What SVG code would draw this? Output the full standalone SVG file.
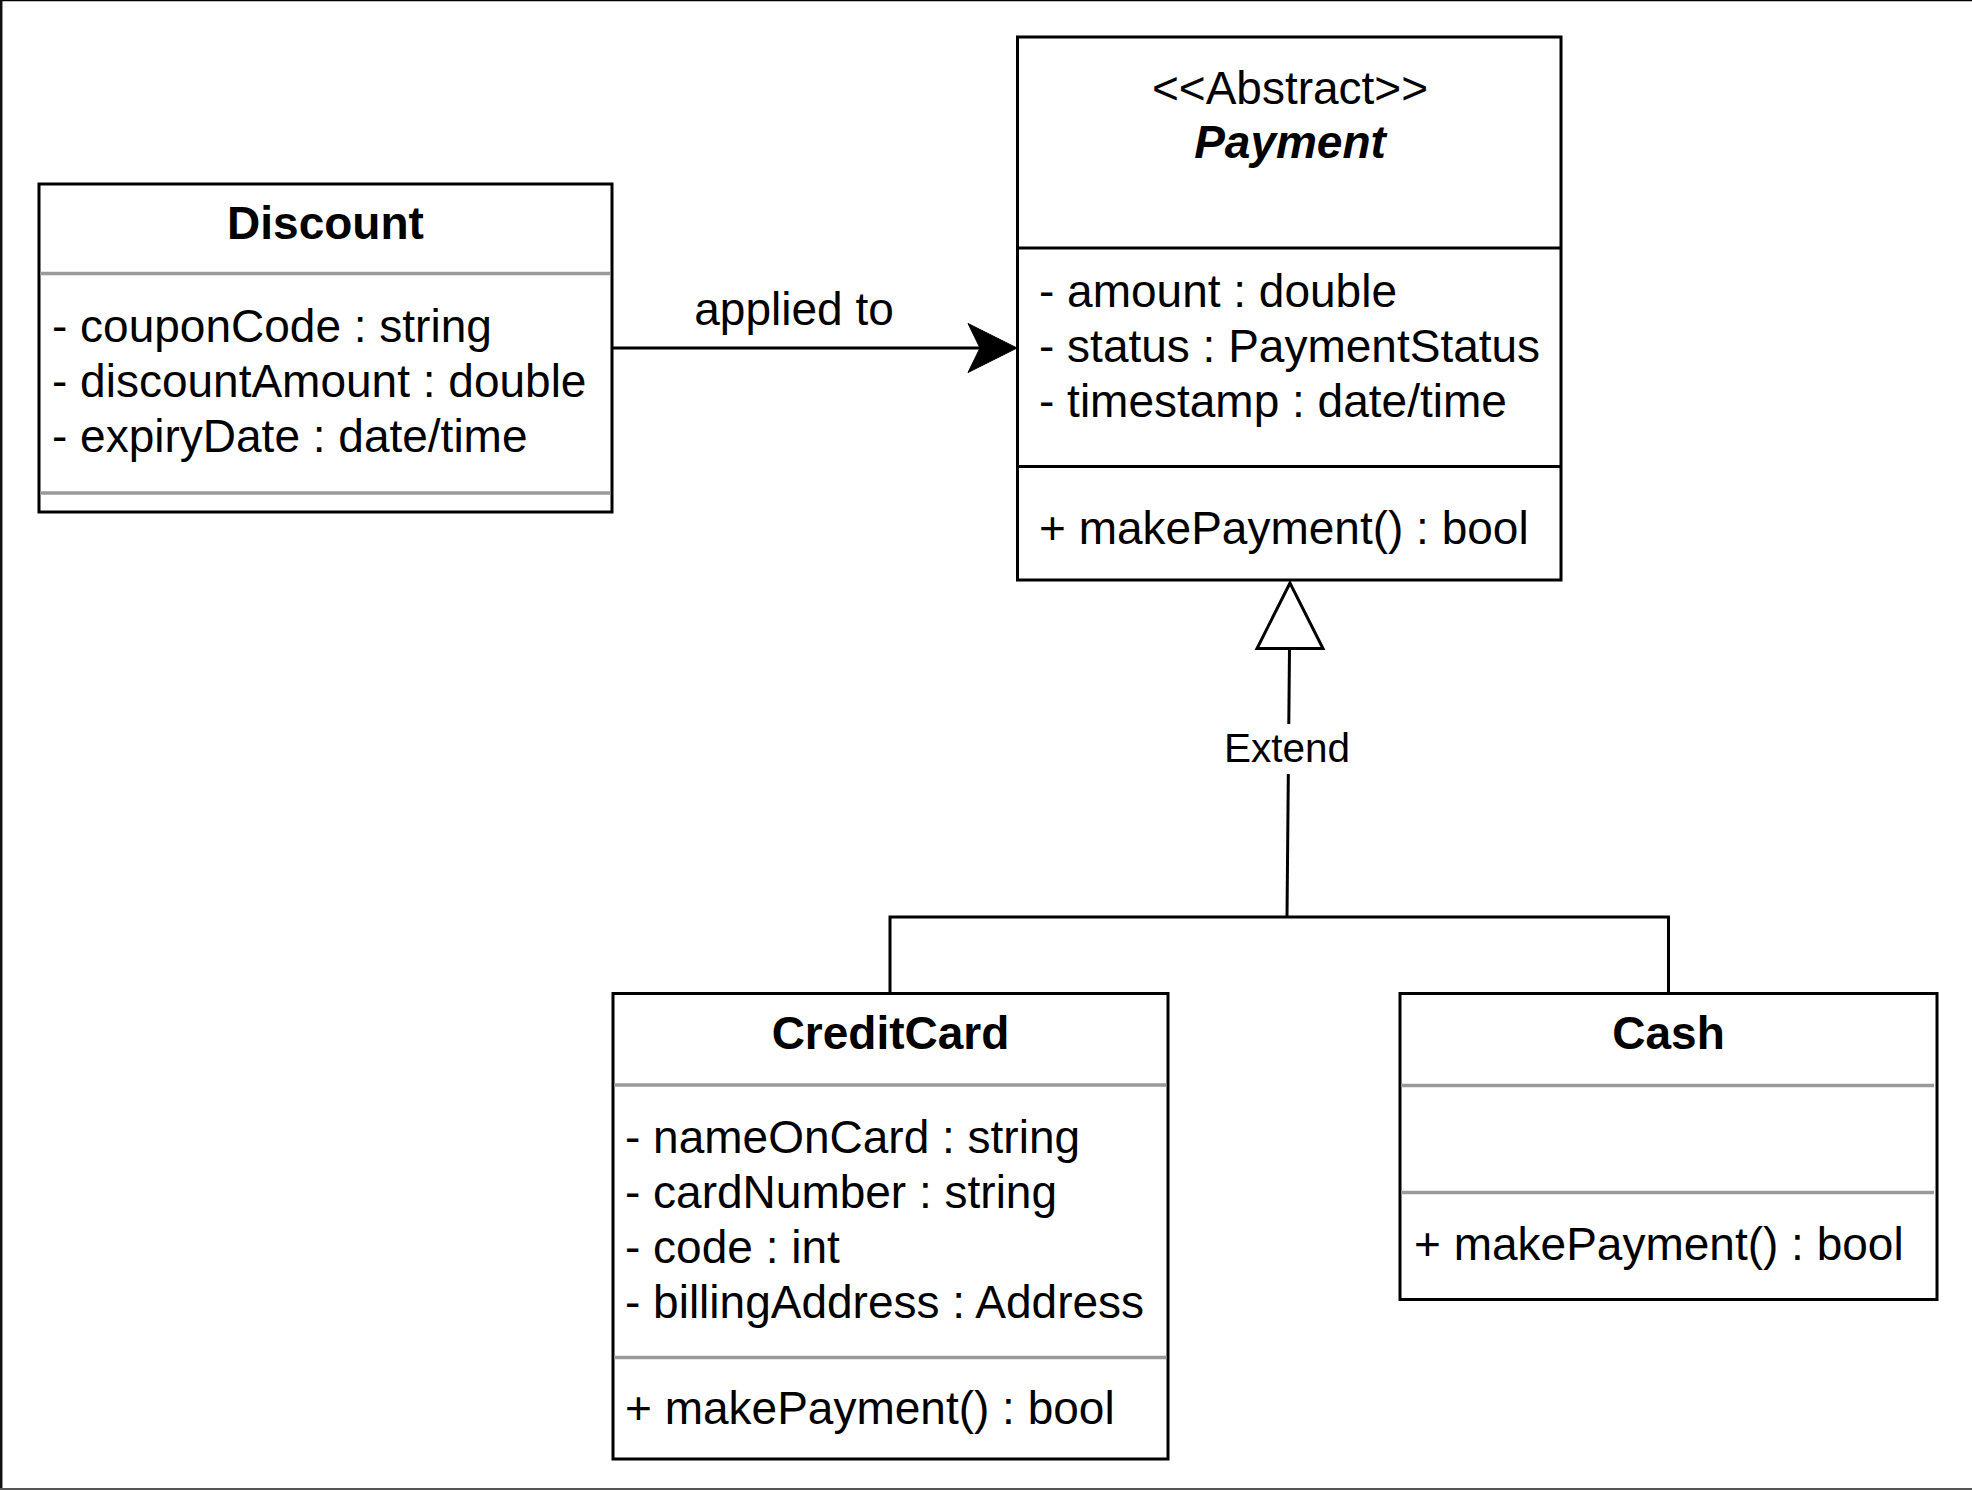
<svg xmlns="http://www.w3.org/2000/svg" width="1972" height="1490" viewBox="0 0 1972 1490">
<style>
text{font-family:"Liberation Sans",Arial,Helvetica,sans-serif;font-size:46px;fill:#000}
.t{font-weight:bold;text-anchor:middle}
.c{text-anchor:middle}
.box{fill:#fff;stroke:#000;stroke-width:3}
.sep{stroke:#9a9a9a;stroke-width:3.5;fill:none}
.sepb{stroke:#000;stroke-width:3;fill:none}
.ln{stroke:#000;stroke-width:3;fill:none}
.lbl{font-size:40.5px;text-anchor:middle}
</style>
<rect x="0" y="0" width="1972" height="1490" fill="#fff"/>
<line x1="0" y1="0.5" x2="1972" y2="0.5" stroke="#000" stroke-width="1.5"/>
<line x1="1.2" y1="0" x2="1.2" y2="1490" stroke="#111" stroke-width="2.5"/>
<line x1="0" y1="1489" x2="1972" y2="1489" stroke="#555" stroke-width="2"/>

<g id="connectors">
  <line class="ln" x1="612" y1="348" x2="982" y2="348"/>
  <polygon points="1017,348 968,323.5 980,348 968,372.5" fill="#000" stroke="#000" stroke-width="1"/>
  <text x="794" y="325" class="c" font-size="45.5">applied to</text>
  <polyline class="ln" points="890,993 890,917 1668.5,917 1668.5,993"/>
  <line class="ln" x1="1287" y1="917" x2="1289.5" y2="648"/>
  <polygon points="1290,583 1257,648.5 1323,648.5" fill="#fff" stroke="#000" stroke-width="3"/>
  <rect x="1222" y="724" width="130" height="50" fill="#fff"/>
  <text x="1287" y="762" class="lbl">Extend</text>
</g>

<g id="discount">
  <rect class="box" x="39" y="184" width="573" height="328"/>
  <text x="325.5" y="239" class="t">Discount</text>
  <line class="sep" x1="40" y1="273.5" x2="610" y2="273.5"/>
  <text x="52" y="342">- couponCode : string</text>
  <text x="52" y="397">- discountAmount : double</text>
  <text x="52" y="452">- expiryDate : date/time</text>
  <line class="sep" x1="40" y1="493" x2="610" y2="493"/>
</g>

<g id="payment">
  <rect class="box" x="1017.5" y="37" width="543.5" height="543"/>
  <text x="1290" y="104" class="c">&lt;&lt;Abstract&gt;&gt;</text>
  <text x="1290" y="158" class="t" font-style="italic">Payment</text>
  <line class="sepb" x1="1017.5" y1="248" x2="1561" y2="248"/>
  <text x="1039" y="307">- amount : double</text>
  <text x="1039" y="362">- status : PaymentStatus</text>
  <text x="1039" y="417">- timestamp : date/time</text>
  <line class="sepb" x1="1017.5" y1="466.5" x2="1561" y2="466.5"/>
  <text x="1039" y="544">+ makePayment() : bool</text>
</g>

<g id="creditcard">
  <rect class="box" x="613" y="993.5" width="555" height="465.5"/>
  <text x="890.5" y="1049" class="t">CreditCard</text>
  <line class="sep" x1="614" y1="1085" x2="1166" y2="1085"/>
  <text x="625" y="1153">- nameOnCard : string</text>
  <text x="625" y="1208">- cardNumber : string</text>
  <text x="625" y="1263">- code : int</text>
  <text x="625" y="1318">- billingAddress : Address</text>
  <line class="sep" x1="614" y1="1357.5" x2="1166" y2="1357.5"/>
  <text x="625" y="1424">+ makePayment() : bool</text>
</g>

<g id="cash">
  <rect class="box" x="1400" y="993.5" width="537" height="306"/>
  <text x="1668.5" y="1049" class="t">Cash</text>
  <line class="sep" x1="1401" y1="1085.5" x2="1934" y2="1085.5"/>
  <line class="sep" x1="1401" y1="1192.5" x2="1934" y2="1192.5"/>
  <text x="1414" y="1260">+ makePayment() : bool</text>
</g>
</svg>
